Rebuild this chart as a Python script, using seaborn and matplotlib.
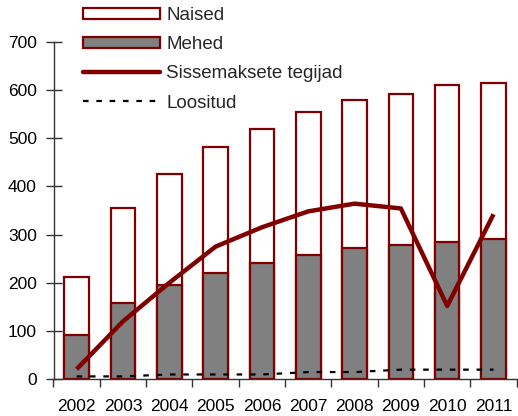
import numpy as np
import pandas as pd
import seaborn as sns
import matplotlib.pyplot as plt
from matplotlib.patches import Patch
from matplotlib.lines import Line2D

# Data
years = ["2002", "2003", "2004", "2005", "2006", "2007", "2008", "2009", "2010", "2011"]
kokku = [212, 354, 426, 481, 518, 554, 579, 592, 609, 613]   # Naised + Mehed (bar total)
mehed = [91, 158, 195, 221, 240, 257, 273, 278, 285, 290]
sissemaksete_tegijad = [21, 120, 200, 275, 315, 348, 364, 354, 152, 342]
loositud = [6, 6, 10, 10, 10, 15, 15, 20, 20, 20]

dark_red = "#800000"

sns.set_theme(style="white")
plt.rcParams['font.family'] = ['Liberation Sans', 'DejaVu Sans']

df = pd.DataFrame({"aasta": years, "kokku": kokku, "mehed": mehed})

fig = plt.figure(figsize=(5.18, 4.16), dpi=100)
ax = fig.add_axes([53.5 / 518, 36.7 / 416, (516.7 - 53.5) / 518, (379.3 - 41.5) / 416])

# Stacked bars: white total behind, grey men in front
sns.barplot(data=df, x="aasta", y="kokku", color="white", saturation=1,
            edgecolor=dark_red, linewidth=1.6, width=0.53, ax=ax)
sns.barplot(data=df, x="aasta", y="mehed", color="#808080", saturation=1,
            edgecolor=dark_red, linewidth=1.6, width=0.53, ax=ax)

pos = np.arange(len(years))
ax.plot(pos, sissemaksete_tegijad, color=dark_red, linewidth=3.2, solid_capstyle="butt", zorder=5)
ax.plot(pos, loositud, color="black", linewidth=1.6, dashes=(2.5, 3.5), zorder=5)

ax.set_xlim(-0.5, len(years) - 0.5)
ax.set_ylim(0, 700)
ax.set_yticks(range(0, 701, 100))
ax.set_xticks(np.arange(-0.5, len(years), 1), minor=True)
ax.set_xlabel("")
ax.set_ylabel("")

for s in ["top", "right"]:
    ax.spines[s].set_visible(False)
for s in ["left", "bottom"]:
    ax.spines[s].set_color("#333333")
    ax.spines[s].set_linewidth(1.0)

ax.tick_params(axis="y", which="major", direction="inout", length=12, width=1,
               color="#333333", labelsize=12.5, labelcolor="black", pad=6, left=True)
ax.tick_params(axis="x", which="major", length=0, labelsize=12.5, labelcolor="black", pad=14)
ax.tick_params(axis="x", which="minor", direction="out", length=6, width=1,
               color="#333333", bottom=True)

handles = [
    Patch(facecolor="white", edgecolor=dark_red, linewidth=1.6),
    Patch(facecolor="#808080", edgecolor=dark_red, linewidth=1.6),
    Line2D([0], [0], color=dark_red, linewidth=3.2),
    Line2D([0], [0], color="black", linewidth=1.6, dashes=(2.5, 3.5)),
]
labels = ["Naised", "Mehed", "Sissemaksete tegijad", "Loositud"]
fig.legend(handles, labels, loc="upper left", bbox_to_anchor=(83 / 518, 1 - 7 / 416),
           frameon=False, fontsize=13.5, borderpad=0, borderaxespad=0,
           handlelength=4.1, handleheight=0.55, handletextpad=0.35, labelspacing=0.65)

fig.savefig("out.png", dpi=100)
